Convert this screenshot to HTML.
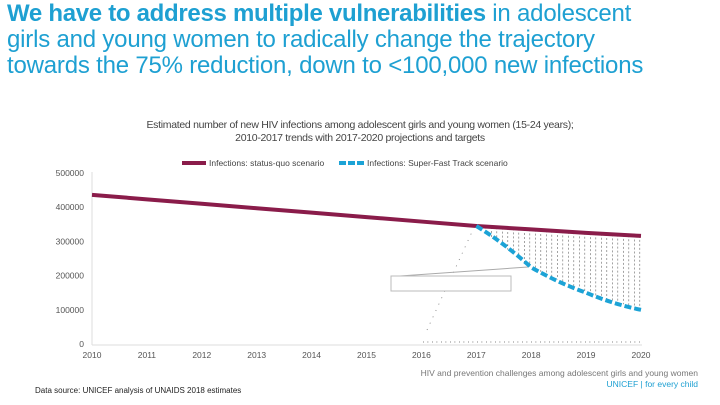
<!DOCTYPE html>
<html><head><meta charset="utf-8"><style>
body{margin:0;width:720px;height:405px;background:#fff;position:relative;overflow:hidden;font-family:"Liberation Sans",sans-serif}
#title{position:absolute;left:7px;top:1px;width:715px;color:#1ea0d2;font-size:24px;line-height:26px;letter-spacing:-0.2px;white-space:nowrap}
#title b{font-weight:bold;letter-spacing:-0.3px}
.sub{position:absolute;left:0;width:720px;text-align:center;font-size:10.5px;color:#444;letter-spacing:-0.3px}
svg{position:absolute;left:0;top:0}
</style></head><body>
<div id="title"><b>We have to address multiple vulnerabilities</b> in adolescent<br>girls and young women to radically change the trajectory<br>towards the 75% reduction, down to &lt;100,000 new infections</div>
<div class="sub" style="top:119px;line-height:13px">Estimated number of new HIV infections among adolescent girls and young women (15-24 years);<br>2010-2017 trends with 2017-2020 projections and targets</div>
<svg id="chart" width="720" height="405"></svg>
<div style="position:absolute;right:22px;top:368px;font-size:8.5px;color:#777;text-align:right;line-height:11px">HIV and prevention challenges among adolescent girls and young women<br><span style="color:#1ea0d2">UNICEF | for every child</span></div>
<div style="position:absolute;left:35px;top:386px;font-size:8px;color:#222">Data source: UNICEF analysis of UNAIDS 2018 estimates</div>
<script>
const years=[2010,2011,2012,2013,2014,2015,2016,2017,2018,2019,2020];
const statusQuo=[436000,423000,410000,397000,384000,371000,358000,345000,335000,325000,316000];
const fastYears=[2017,2018,2019,2020];
const fastTrack=[345000,224000,150000,100000];
const yTicks=[0,100000,200000,300000,400000,500000];
const NS="http://www.w3.org/2000/svg";
const svg=document.getElementById('chart');
const X=y=>92+(y-2010)*54.9, Y=v=>344-v*0.000342;
function mk(t,a){const e=document.createElementNS(NS,t);for(const k in a)e.setAttribute(k,a[k]);svg.appendChild(e);return e;}
let e;
e=mk('line',{x1:92,y1:172,x2:92,y2:345,stroke:'#ddd','stroke-width':1});

e=mk('line',{x1:92,y1:345,x2:642,y2:345,stroke:'#ddd','stroke-width':1});

yTicks.forEach(v=>{const t=mk('text',{x:84,y:Y(v)+3,'text-anchor':'end','font-size':8.5,fill:'#555'});t.textContent=v;
});
years.forEach(y=>{const t=mk('text',{x:X(y),y:358,'text-anchor':'middle','font-size':8.5,fill:'#555'});t.textContent=y;
});
const fy=x=>{for(let i=0;i<fastYears.length-1;i++){if(x<=X(fastYears[i+1])){const a=X(fastYears[i]),b=X(fastYears[i+1]);const f=(x-a)/(b-a);return Y(fastTrack[i]+(fastTrack[i+1]-fastTrack[i])*f);}}return Y(fastTrack[fastTrack.length-1]);};
const sy=x=>{const yr=2010+(x-92)/54.9;const i=Math.min(Math.floor(yr-2010),years.length-2);const f=yr-years[i];return Y(statusQuo[i]+(statusQuo[i+1]-statusQuo[i])*f);};
for(let x=X(2017)+4;x<=X(2020);x+=5.5){e=mk('line',{x1:x,y1:sy(x),x2:x,y2:fy(x),stroke:'#666','stroke-width':0.6,'stroke-dasharray':'2,2'});
}
for(let x=X(2016)+2;x<=X(2020);x+=4.5){e=mk('line',{x1:x,y1:341,x2:x,y2:343,stroke:'#999','stroke-width':0.6});
}
e=mk('line',{x1:427,y1:330,x2:X(2017)-3,y2:Y(statusQuo[7])+3,stroke:'#777','stroke-width':0.8,'stroke-dasharray':'1,6'});

e=mk('line',{x1:400,y1:276,x2:528,y2:267,stroke:'#aaa','stroke-width':1});

e=mk('rect',{x:391,y:276,width:120,height:15,fill:'#fff',stroke:'#bbb','stroke-width':1});

e=mk('polyline',{points:years.map((y,i)=>X(y)+','+Y(statusQuo[i])).join(' '),fill:'none',stroke:'#8a1c4a','stroke-width':4});

let d='M'+X(fastYears[0])+','+Y(fastTrack[0]);
for(let i=1;i<fastYears.length;i++){const x0=X(fastYears[i-1]),y0=Y(fastTrack[i-1]),x1=X(fastYears[i]),y1=Y(fastTrack[i]);d+=' Q'+((x0+x1)/2)+','+((y0+y1)/2+(i==1?-4:3))+' '+x1+','+y1;}
e=mk('path',{d:d,fill:'none',stroke:'#1ca3d6','stroke-width':4,'stroke-dasharray':'7,3'});

e=mk('line',{x1:182,y1:163,x2:206,y2:163,stroke:'#8a1c4a','stroke-width':4});

e=mk('text',{x:209,y:166,'font-size':8.5,fill:'#444'});e.textContent='Infections: status-quo scenario';

e=mk('line',{x1:339,y1:163,x2:364,y2:163,stroke:'#1ca3d6','stroke-width':4,'stroke-dasharray':'7,2'});

e=mk('text',{x:367,y:166,'font-size':8.5,fill:'#444'});e.textContent='Infections: Super-Fast Track scenario';

</script>
</body></html>
